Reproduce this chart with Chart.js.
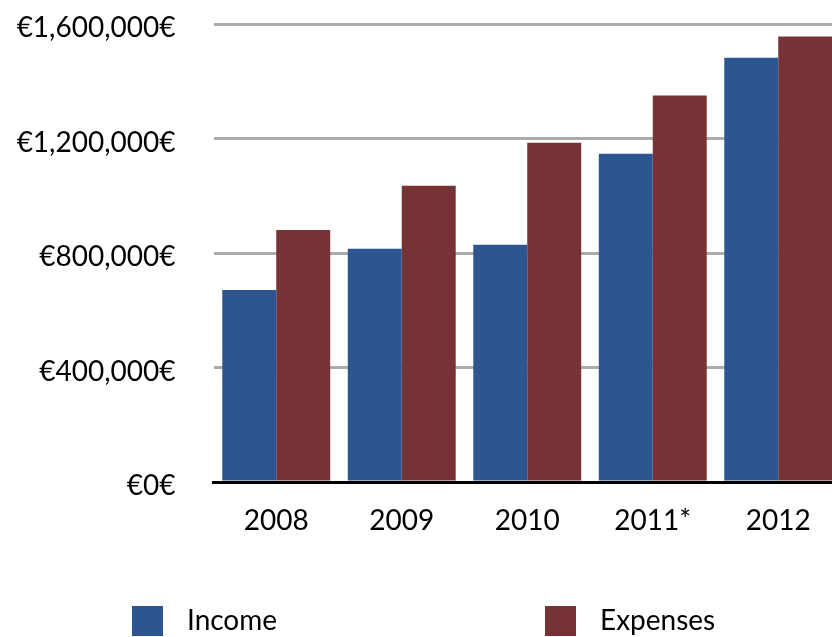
<!DOCTYPE html>
<html>
<head>
<meta charset="utf-8">
<script src="https://cdn.jsdelivr.net/npm/chart.js@4"></script>
<style>
    html, body { margin: 0; padding: 0; background: #fff; overflow: hidden; }
    #wrap { width: 832px; height: 637px; overflow: hidden; }
</style>
</head>
<body>
<div id="wrap"><canvas id="financeChart" width="841" height="637"></canvas></div>
<script>
const years = ['2008', '2009', '2010', '2011*', '2012'];
const income = [671000, 815000, 829000, 1147000, 1482000];
const expenses = [880000, 1035000, 1185000, 1350000, 1556000];
const yTicks = [0, 400000, 800000, 1200000, 1600000];

const FONT = "Lato, 'Open Sans', sans-serif";

// simple legend drawn under the axis, like the original sheet
const bottomLegend = {
    id: 'bottomLegend',
    afterDraw(chart) {
        const ctx = chart.ctx;
        const spots = [132, 545];
        ctx.save();
        ctx.font = '28px ' + FONT;
        ctx.textBaseline = 'middle';
        ctx.textAlign = 'left';
        chart.data.datasets.forEach((ds, i) => {
            const x = spots[i];
            ctx.fillStyle = ds.backgroundColor;
            ctx.fillRect(x, 606, 31, 30);
            ctx.fillStyle = '#000';
            ctx.fillText(ds.label, x + 55, 621);
        });
        ctx.restore();
    }
};

function zeroPad(scale) {
    scale.paddingTop = 0;
    scale.paddingBottom = 0;
    scale.paddingLeft = 0;
    scale.paddingRight = 0;
}

const ctx = document.getElementById('financeChart').getContext('2d');
const myChart = new Chart(ctx, {
    type: 'bar',
    data: {
        labels: years,
        datasets: [{
            label: 'Income',
            data: income,
            backgroundColor: '#2d5690',
            categoryPercentage: 0.86,
            barPercentage: 1.0
        }, {
            label: 'Expenses',
            data: expenses,
            backgroundColor: '#773236',
            categoryPercentage: 0.86,
            barPercentage: 1.0
        }]
    },
    options: {
        responsive: false,
        animation: false,
        layout: { padding: { top: 24, left: 0, right: 0, bottom: 0 } },
        plugins: {
            legend: { display: false },
            tooltip: { enabled: false }
        },
        scales: {
            x: {
                grid: { display: false },
                border: { color: '#000', width: 3 },
                ticks: {
                    color: '#000',
                    font: { family: FONT, size: 28 },
                    padding: 14
                },
                afterFit(scale) {
                    zeroPad(scale);
                    scale.height = 155;
                }
            },
            y: {
                min: 0,
                max: 1600000,
                afterBuildTicks(scale) {
                    scale.ticks = yTicks.map(v => ({ value: v }));
                },
                grid: {
                    color: '#ababab',
                    lineWidth: 3,
                    drawTicks: false
                },
                border: { display: false },
                ticks: {
                    color: '#000',
                    font: { family: FONT, size: 28 },
                    padding: 38,
                    labelOffset: 4,
                    callback: v => '€' + v.toLocaleString('en-US') + '€'
                },
                afterFit(scale) {
                    zeroPad(scale);
                    scale.width = 213.5;
                }
            }
        }
    },
    plugins: [bottomLegend]
});
</script>
</body>
</html>
